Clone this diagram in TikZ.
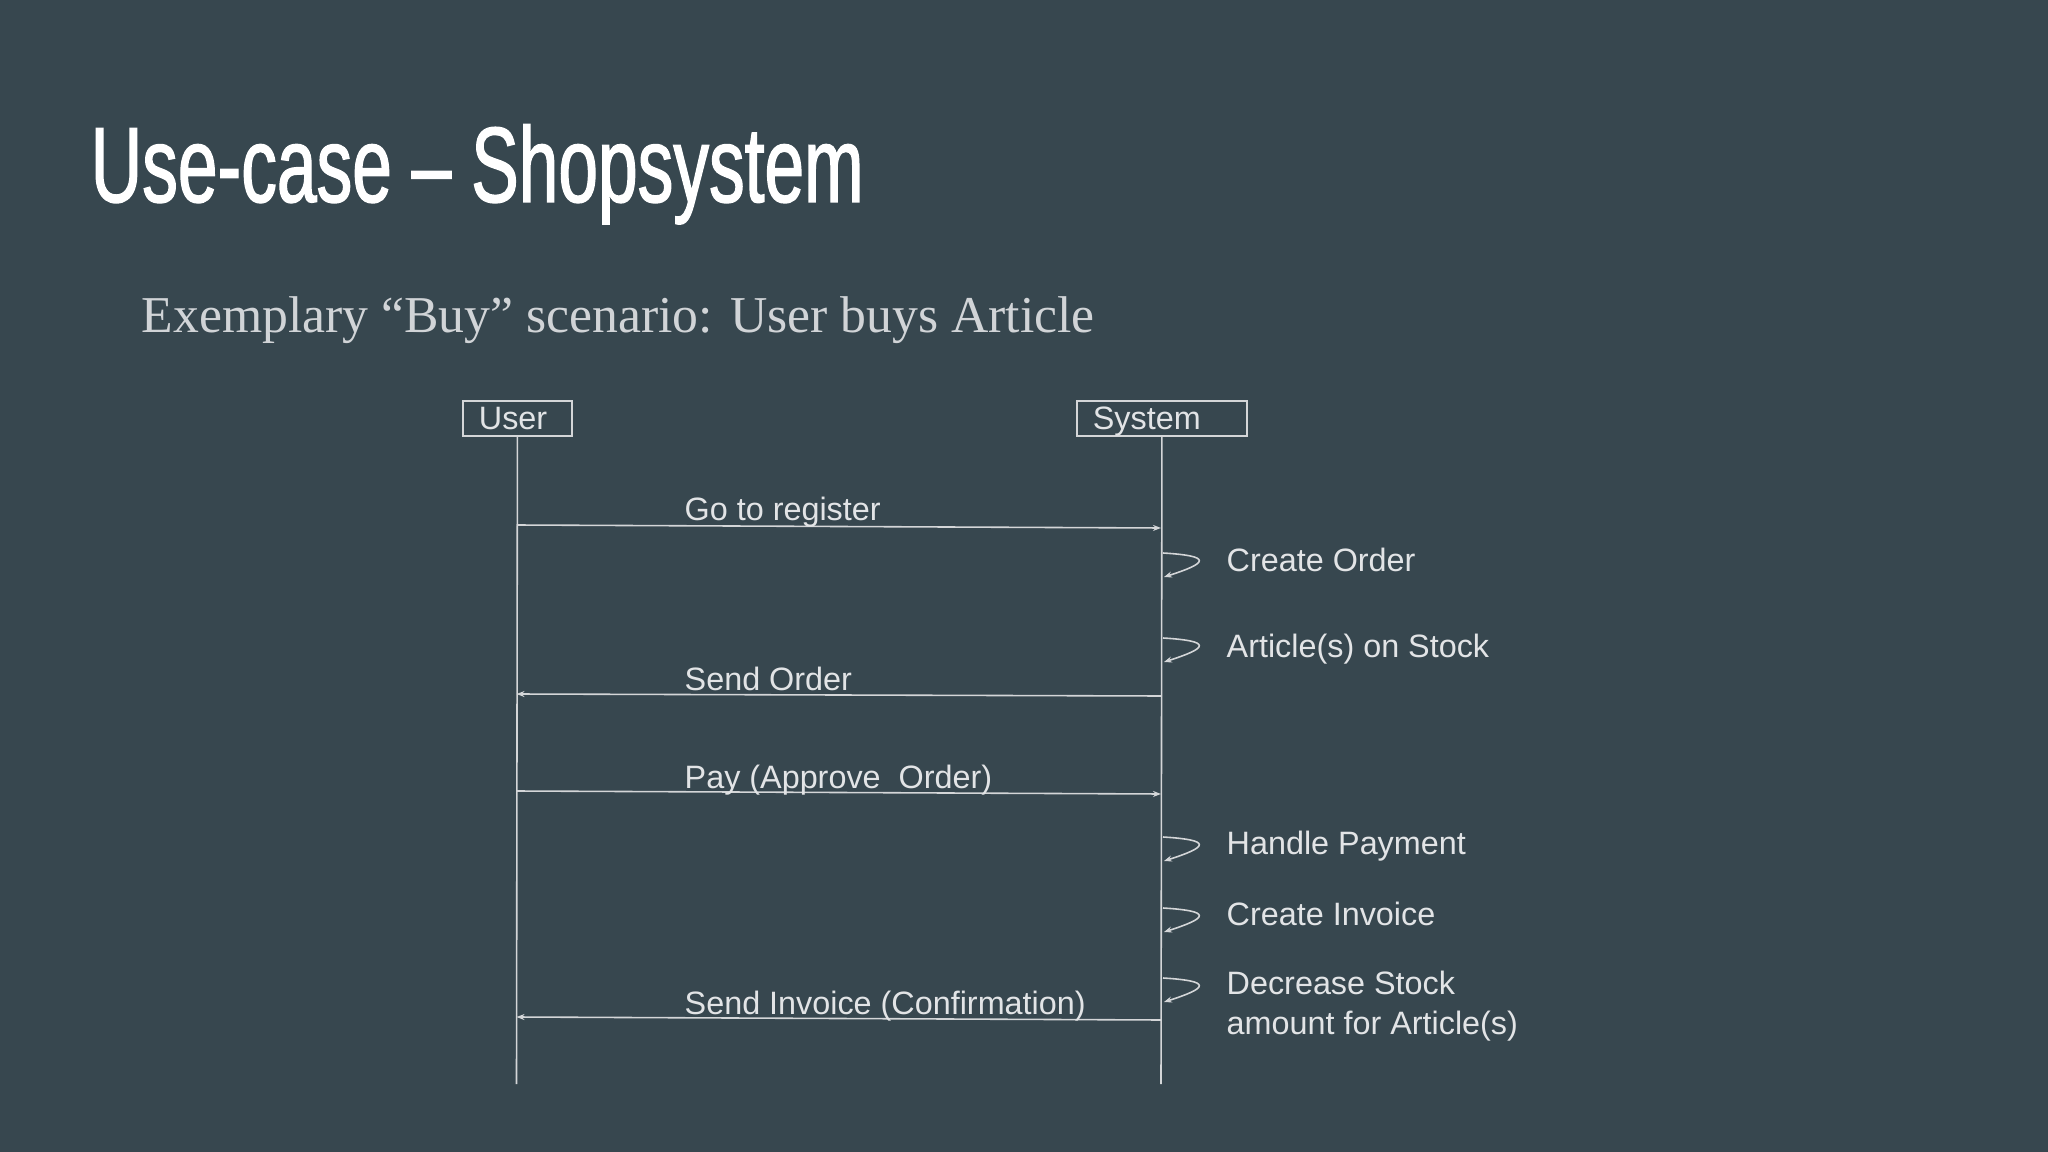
\documentclass[tikz,border=0pt]{standalone}
\usepackage{fontspec}
\setmainfont{Liberation Sans}
\newfontfamily\titlefont[FakeStretch=0.665,FakeBold=1.2]{Liberation Sans}
\newfontfamily\subfont{Liberation Serif}
\usetikzlibrary{arrows.meta}
\usetikzlibrary{positioning}

\definecolor{slidebg}{HTML}{37474F}
\definecolor{wire}{HTML}{D4D6D8}
\definecolor{ink}{HTML}{E2E4E6}

\tikzset{
  actor/.style={draw=wire,line width=0.5pt,anchor=north west,minimum height=0.35cm,inner xsep=0.16cm,inner ysep=0pt,text height=6.6pt,text depth=0pt,font=\fontsize{9.2}{10}\selectfont,text=ink,align=left},
  life/.style={draw=wire,line width=0.45pt},
  msg/.style={draw=wire,line width=0.45pt,-{Stealth[length=0.08cm,width=0.06cm]}},
  msglabel/.style={font=\fontsize{9.2}{10}\selectfont,text=ink,anchor=base west,inner sep=0pt},
  notelabel/.style={font=\fontsize{9.2}{11.1}\selectfont,text=ink,anchor=base west,inner sep=0pt,align=left}
}

\begin{document}
\begin{tikzpicture}[x=0.01cm,y=-0.01cm]
\fill[slidebg] (0,0) rectangle (2048,1152);
\useasboundingbox (0,0) rectangle (2048,1152);

% heading
\node[font=\titlefont\fontsize{30.5}{32}\selectfont,text=white,anchor=base west,inner sep=0pt] (title) at (90,202) {Use-case – Shopsystem};
\node[font=\subfont\fontsize{14.7}{18}\selectfont,text=ink!90!slidebg,anchor=base west,inner sep=0pt] (sub) at (141,333) {Exemplary “Buy” scenario: User buys Article};

% actors
\node[actor,minimum width=1.09cm,text width=0.77cm] (user) at (462,400) {User};
\node[actor,minimum width=1.70cm,text width=1.38cm] (system) at (1076,400) {System};

% lifelines
\coordinate (userEnd) at (516.5,1084);
\coordinate (sysEnd) at (1161,1084);
\draw[life] (user.south) -- (userEnd);
\draw[life] (system.south) -- (sysEnd);

% messages
\coordinate (m1u) at (516.5,525);
\coordinate (m1s) at (1161,528);
\draw[msg] (m1u) -- (m1s);
\node[msglabel] (m1) at (684,521) {Go to register};

\coordinate (m2u) at (516.5,694);
\coordinate (m2s) at (1161,696);
\draw[msg] (m2s) -- (m2u);
\node[msglabel] (m2) at (684,690) {Send Order};

\coordinate (m3u) at (516.5,791);
\coordinate (m3s) at (1161,794);
\draw[msg] (m3u) -- (m3s);
\node[msglabel] (m3) at (684,788) {Pay (Approve\ \ Order)};

\coordinate (m4u) at (516.5,1017);
\coordinate (m4s) at (1161,1020);
\draw[msg] (m4s) -- (m4u);
\node[msglabel] (m4) at (684,1014) {Send Invoice (Confirmation)};

% self calls on system
\coordinate (s1a) at (1163,553);
\coordinate (s1b) at (1164,577);
\draw[msg] (s1a) .. controls +(50,3) and +(44,-14) .. (s1b);
\node[notelabel] (s1) at (1226,572) {Create Order};

\coordinate (s2a) at (1163,638);
\coordinate (s2b) at (1164,662);
\draw[msg] (s2a) .. controls +(50,3) and +(44,-14) .. (s2b);
\node[notelabel] (s2) at (1226,657) {Article(s) on Stock};

\coordinate (s3a) at (1163,837);
\coordinate (s3b) at (1164,861);
\draw[msg] (s3a) .. controls +(50,3) and +(44,-14) .. (s3b);
\node[notelabel] (s3) at (1226,854) {Handle Payment};

\coordinate (s4a) at (1163,908);
\coordinate (s4b) at (1164,932);
\draw[msg] (s4a) .. controls +(50,3) and +(44,-14) .. (s4b);
\node[notelabel] (s4) at (1226,925) {Create Invoice};

\coordinate (s5a) at (1163,978);
\coordinate (s5b) at (1164,1002);
\draw[msg] (s5a) .. controls +(50,3) and +(44,-14) .. (s5b);
\node[notelabel] (s5) at (1226,1034) {Decrease Stock\\amount for Article(s)};

\end{tikzpicture}
\end{document}
